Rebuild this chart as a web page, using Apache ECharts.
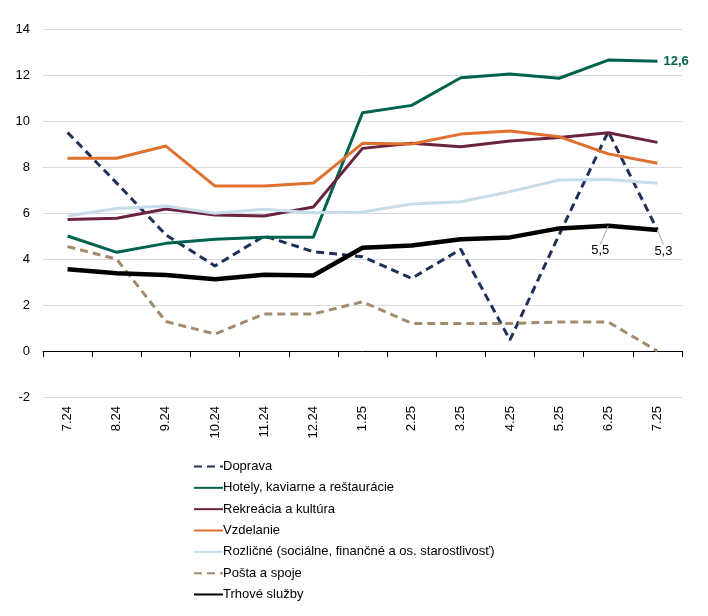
<!DOCTYPE html>
<html><head><meta charset="utf-8">
<script src="https://cdn.jsdelivr.net/npm/echarts@6/dist/echarts.min.js"></script>
<style>html,body{margin:0;padding:0;background:#fff}#c{width:708px;height:616px}</style>
</head><body><div id="c"></div>
<script>
var categories = ['7.24','8.24','9.24','10.24','11.24','12.24','1.25','2.25','3.25','4.25','5.25','6.25','7.25'];
var yTicks = [-2,0,2,4,6,8,10,12,14];
var doprava   = [9.5,7.3,5.05,3.7,5.0,4.32,4.1,3.16,4.42,0.48,5.05,9.54,5.26];
var hotely    = [5.0,4.29,4.68,4.86,4.95,4.95,10.36,10.68,11.88,12.04,11.86,12.65,12.6];
var rekreacia = [5.72,5.77,6.17,5.91,5.87,6.26,8.81,9.03,8.88,9.13,9.28,9.49,9.07];
var vzdelanie = [8.38,8.38,8.91,7.17,7.17,7.3,9.03,9.0,9.43,9.57,9.32,8.57,8.16];
var roznicne  = [5.87,6.2,6.3,5.99,6.16,6.01,6.04,6.39,6.49,6.93,7.43,7.46,7.29];
var posta     = [4.54,3.99,1.28,0.74,1.61,1.61,2.14,1.2,1.2,1.2,1.26,1.26,0.0];
var trhove    = [3.55,3.38,3.3,3.12,3.32,3.28,4.49,4.59,4.86,4.94,5.33,5.45,5.26];
var names = ['Doprava','Hotely, kaviarne a reštaurácie','Rekreácia a kultúra','Vzdelanie','Rozličné (sociálne, finančné a os. starostlivosť)','Pošta a spoje','Trhové služby'];

var FONT = 'Liberation Sans, Arial, sans-serif';
function fmt(v){ return v.toFixed(1).replace('.', ','); }

function mk(name, data, color, width, dash) {
  return {
    name: name, type: 'line', data: data, symbol: 'circle', symbolSize: 0.1, showSymbol: true,
    lineStyle: {color: color, width: width, type: dash ? [8,5] : 'solid'},
    itemStyle: {color: color, borderWidth: 0},
    emphasis: {disabled: true}
  };
}

var sHotely = mk(names[1], hotely.map(function(v,i){
  if (i === hotely.length-1) return {value: v, label: {show: true, position: 'right', distance: 6, formatter: function(p){return fmt(p.value);}, color: '#00634F', fontWeight: 'bold', fontSize: 13, fontFamily: FONT}};
  return v;
}), '#00634F', 3, false);

var sTrh = mk(names[6], trhove.map(function(v,i){
  if (i >= trhove.length-2) return {value: v, label: {show: true, position: 'inside', formatter: function(p){return fmt(p.value);}, color: '#000', fontSize: 13, fontFamily: FONT}};
  return v;
}), '#000000', 4.5, false);
sTrh.labelLayout = function(p){
  if (p.dataIndex === 11) return {dx: -8, dy: 25};
  if (p.dataIndex === 12) return {dx: 6, dy: 21};
  return {};
};
sTrh.labelLine = {show: true, lineStyle: {color: '#a6a6a6', width: 1}, length2: 0};

var series = [
  mk(names[0], doprava, '#1F3158', 3, true),
  sHotely,
  mk(names[2], rekreacia, '#6B2342', 3, false),
  mk(names[3], vzdelanie, '#E0702E', 3, false),
  mk(names[4], roznicne, '#C6DCE8', 3, false),
  mk(names[5], posta, '#A38C6C', 3, true),
  sTrh
];

var chart = echarts.init(document.getElementById('c'), null, {renderer: 'canvas'});
chart.setOption({
  animation: false,
  backgroundColor: '#fff',
  textStyle: {fontFamily: FONT},
  grid: {left: 43, right: 26, top: 29, bottom: 219, containLabel: false},
  legend: {
    orient: 'vertical', left: 188, top: 455,
    itemWidth: 29, itemHeight: 14, itemGap: 8.33,
    itemStyle: {opacity: 0},
    textStyle: {fontSize: 13, color: '#000', fontFamily: FONT, padding: [0,0,0,-5]},
    data: names
  },
  xAxis: [
    {type: 'category', data: categories, position: 'bottom',
     axisLine: {show: false, onZero: false}, axisTick: {show: false},
     axisLabel: {rotate: 90, fontSize: 13, color: '#000', margin: 9, fontFamily: FONT}},
    {type: 'category', data: categories, position: 'top',
     axisLine: {show: true, onZero: true, lineStyle: {color: '#000', width: 1}},
     axisTick: {show: true, inside: true, length: 6, lineStyle: {color: '#000'}},
     axisLabel: {show: false}}
  ],
  yAxis: {
    type: 'value', min: -2, max: 14, interval: 2,
    axisLine: {show: false}, axisTick: {show: false},
    axisLabel: {fontSize: 13, color: '#000', margin: 13, fontFamily: FONT},
    splitLine: {lineStyle: {color: '#d9d9d9', width: 1}}
  },
  series: series
});
</script></body></html>
